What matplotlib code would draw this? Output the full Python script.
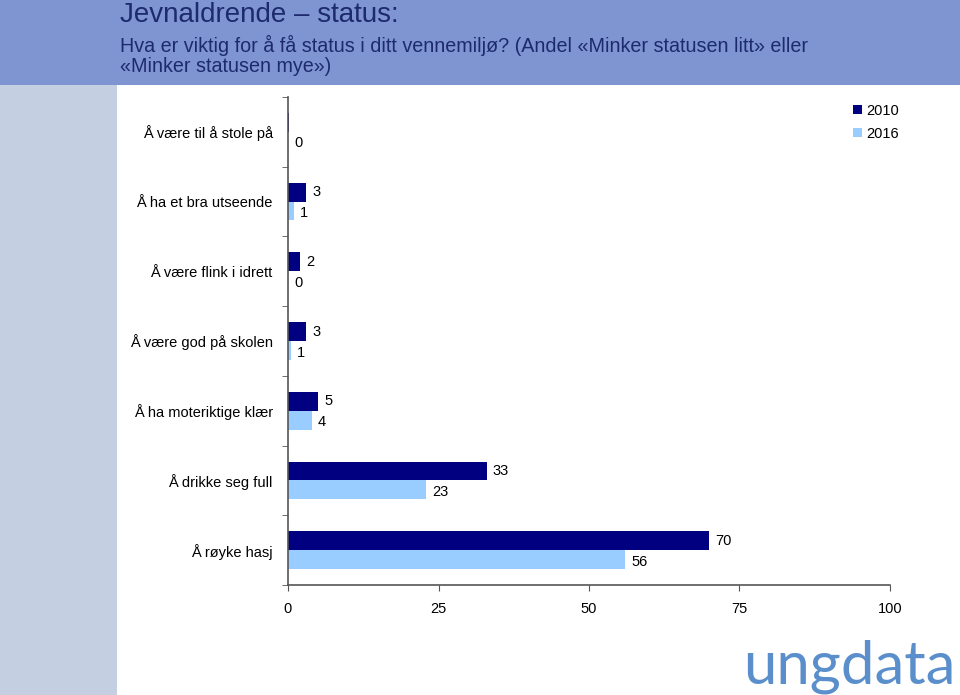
import numpy as np
import matplotlib.pyplot as plt
from matplotlib.patches import Rectangle

# data
categories = ['Å være til å stole på', 'Å ha et bra utseende', 'Å være flink i idrett',
              'Å være god på skolen', 'Å ha moteriktige klær', 'Å drikke seg full', 'Å røyke hasj']
v2010 = [0.2, 3, 2, 3, 5, 33, 70]
v2016 = [0, 1, 0, 0.5, 4, 23, 56]
lab2010 = ['', '3', '2', '3', '5', '33', '70']
lab2016 = ['0', '1', '0', '1', '4', '23', '56']
years = ['2010', '2016']
xticks = [0, 25, 50, 75, 100]

navy = '#000080'
light = '#99ccff'
txt = '#1e2a6e'
font = ['Liberation Sans', 'DejaVu Sans']

fig = plt.figure(figsize=(9.6, 6.95), dpi=100)
fig.patch.set_facecolor('white')

# header band and left strip
fig.patches.append(Rectangle((0, 1 - 85/695), 1, 85/695, transform=fig.transFigure,
                             facecolor='#7f95d1', edgecolor='none', zorder=0))
fig.patches.append(Rectangle((0, 0), 117/960, 1 - 85/695, transform=fig.transFigure,
                             facecolor='#c5cfe2', edgecolor='none', zorder=0))

fig.text(120/960, 1 - 15/695, 'Jevnaldrende – status:', fontsize=20, color=txt,
         family=font, va='center', ha='left')
fig.text(120/960, 1 - 45/695, 'Hva er viktig for å få status i ditt vennemiljø? (Andel «Minker statusen litt» eller',
         fontsize=14.2, color=txt, family=font, va='center', ha='left')
fig.text(120/960, 1 - 66/695, '«Minker statusen mye»)', fontsize=14.2, color=txt,
         family=font, va='center', ha='left')

ax = fig.add_axes([288/960, 1 - 585/695, (890 - 288)/960, (585 - 97)/695])
ax.set_facecolor('none')

y = np.arange(len(categories))
h = 0.27
b1 = ax.barh(y - h/2, v2010, height=h, color=navy, label=years[0])
b2 = ax.barh(y + h/2, v2016, height=h, color=light, label=years[1])

for i in range(len(categories)):
    if lab2010[i]:
        ax.text(v2010[i] + 1.0, y[i] - h/2, lab2010[i], va='center', ha='left', fontsize=10.5, family=font)
    ax.text(v2016[i] + 1.0, y[i] + h/2 + 0.03, lab2016[i], va='center', ha='left', fontsize=10.5, family=font)

ax.set_xlim(0, 100)
ax.set_ylim(len(categories) - 0.5, -0.5)
ax.set_xticks(xticks)
ax.set_xticklabels([str(t) for t in xticks], fontsize=10.5, family=font)
ax.tick_params(axis='x', length=4, pad=8, color='#555555')

ax.set_yticks(y)
ax.set_yticklabels(categories, fontsize=10.5, family=font)
ax.tick_params(axis='y', which='major', length=0, pad=11)
ax.set_yticks(np.arange(-0.5, len(categories)), minor=True)
ax.tick_params(axis='y', which='minor', length=4, color='#555555')

for s in ['top', 'right']:
    ax.spines[s].set_visible(False)
for s in ['left', 'bottom']:
    ax.spines[s].set_color('#555555')
    ax.spines[s].set_linewidth(1.2)

leg = fig.legend(handles=[b1, b2], labels=years, loc='upper left',
                 bbox_to_anchor=(847/960, 1 - 98/695), frameon=False,
                 prop={'family': font, 'size': 10.5}, handlelength=0.6, handleheight=0.6,
                 handletextpad=0.3, labelspacing=0.6, borderaxespad=0)

# logo text
fig.text(743/960, 1 - 683/695, 'ungdata', fontsize=43, color='#5b8fcb',
         family=['Lato', 'DejaVu Sans'], fontweight='normal', va='baseline', ha='left')

fig.savefig('out.png', dpi=100)
